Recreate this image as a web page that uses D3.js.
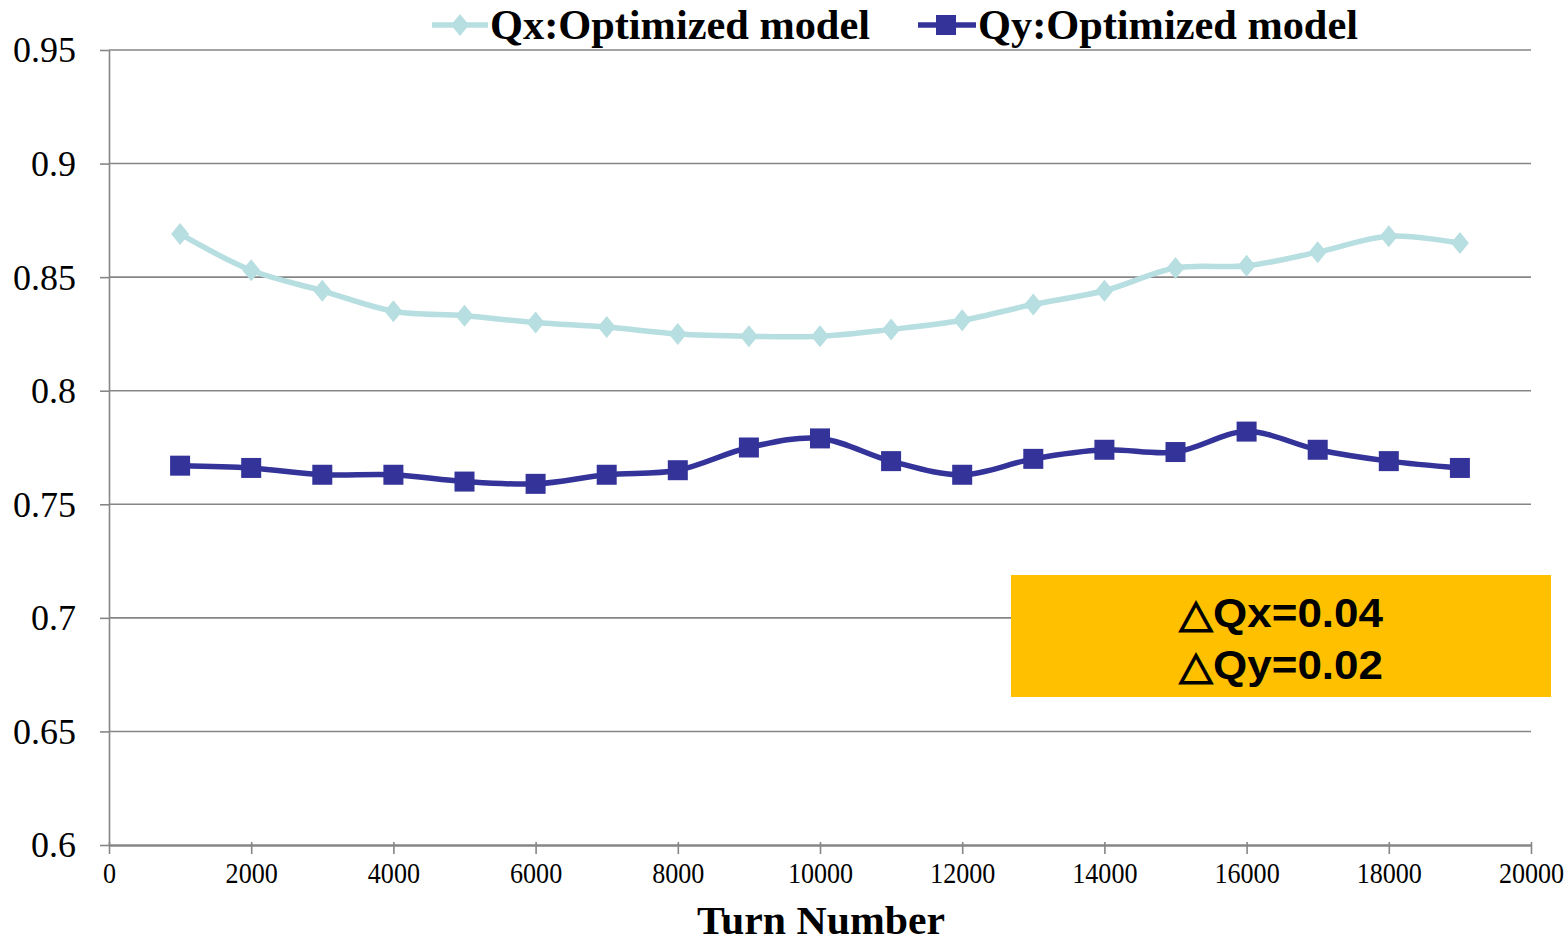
<!DOCTYPE html>
<html><head><meta charset="utf-8">
<script src="https://cdn.jsdelivr.net/npm/d3@7"></script>
<style>body{margin:0;background:#fff}svg{display:block}</style>
</head><body>
<svg id="c" width="1568" height="942"></svg>
<script>
const turns = [1000,2000,3000,4000,5000,6000,7000,8000,9000,10000,11000,12000,13000,14000,15000,16000,17000,18000,19000];
const qx = [0.869,0.853,0.844,0.835,0.833,0.830,0.828,0.825,0.824,0.824,0.827,0.831,0.838,0.844,0.854,0.855,0.861,0.868,0.865];
const qy = [0.767,0.766,0.763,0.763,0.760,0.759,0.763,0.765,0.775,0.779,0.769,0.763,0.770,0.774,0.773,0.782,0.774,0.769,0.766];
const xTicks = [0,2000,4000,6000,8000,10000,12000,14000,16000,18000,20000];
const yTicks = [0.6,0.65,0.7,0.75,0.8,0.85,0.9,0.95];
const seriesNames = ["Qx:Optimized model","Qy:Optimized model"];
const annotation = ["\u25B3Qx=0.04","\u25B3Qy=0.02"];

const svg = d3.select("#c");
const L=109,R=1531,T=50,B=845;
const x = d3.scaleLinear().domain([0,20000]).range([L,R]);
const y = d3.scaleLinear().domain([0.6,0.95]).range([B,T]);
const grey="#868686";
const serif="'Liberation Serif','Times New Roman',serif";

// gridlines
svg.append("g").selectAll("line").data(yTicks.filter(v=>v>0.6)).join("line")
  .attr("x1",L).attr("x2",R).attr("y1",d=>y(d)).attr("y2",d=>y(d))
  .attr("stroke",grey).attr("stroke-width",1.6);

// y axis
const ya = svg.append("g").attr("transform",`translate(${L},0)`)
  .call(d3.axisLeft(y).tickValues(yTicks).tickFormat(d=>String(+d.toFixed(2))).tickSize(9).tickSizeOuter(0));
ya.select(".domain").attr("stroke",grey).attr("stroke-width",1.6);
ya.selectAll(".tick line").attr("stroke",grey).attr("stroke-width",1.6);
ya.selectAll(".tick text").attr("font-family",serif).attr("font-size",36).attr("fill","#000")
  .attr("x",-33).attr("dy","0.33em");

// x axis
const xa = svg.append("g").attr("transform",`translate(0,${B})`)
  .call(d3.axisBottom(x).tickValues(xTicks).tickFormat(d3.format("d")).tickSize(9).tickSizeOuter(0));
xa.select(".domain").attr("stroke",grey).attr("stroke-width",2.5);
xa.selectAll(".tick line").attr("stroke",grey).attr("stroke-width",1.6).attr("y1",-3);
xa.selectAll(".tick text").attr("font-family",serif).attr("font-size",30).attr("fill","#000")
  .attr("y",17).attr("dy","0.71em").attr("transform","scale(0.87,1)");

// x title
svg.append("text").attr("x",(697+945)/2).attr("y",934).attr("text-anchor","middle")
  .attr("font-family",serif).attr("font-weight","bold").attr("font-size",41)
  .attr("textLength",248).attr("lengthAdjust","spacingAndGlyphs").text("Turn Number");

const line = d3.line().x((d,i)=>x(turns[i])).y(d=>y(d)).curve(d3.curveCatmullRom.alpha(0.5));
const c1="#B7DEE0", c2="#333399";
svg.append("path").attr("d",line(qx)).attr("fill","none").attr("stroke",c1).attr("stroke-width",5.5);
svg.append("path").attr("d",line(qy)).attr("fill","none").attr("stroke",c2).attr("stroke-width",5.5);

const diamond = (cx,cy)=>`M${cx},${cy-11}L${cx+9},${cy}L${cx},${cy+11}L${cx-9},${cy}Z`;
svg.append("g").selectAll("path").data(qx).join("path")
  .attr("d",(d,i)=>diamond(x(turns[i]),y(d))).attr("fill",c1);
svg.append("g").selectAll("rect").data(qy).join("rect")
  .attr("x",(d,i)=>x(turns[i])-10).attr("y",d=>y(d)-10).attr("width",20).attr("height",20).attr("fill",c2);

// legend
const lg = svg.append("g");
lg.append("line").attr("x1",432).attr("x2",488).attr("y1",25).attr("y2",25).attr("stroke",c1).attr("stroke-width",5.5);
lg.append("path").attr("d",diamond(460,25)).attr("fill",c1);
lg.append("text").attr("x",490).attr("y",39).attr("font-family",serif).attr("font-weight","bold")
  .attr("font-size",42).attr("textLength",380).attr("lengthAdjust","spacingAndGlyphs").text(seriesNames[0]);
lg.append("line").attr("x1",918).attr("x2",976).attr("y1",25).attr("y2",25).attr("stroke",c2).attr("stroke-width",5.5);
lg.append("rect").attr("x",936).attr("y",15).attr("width",20).attr("height",20).attr("fill",c2);
lg.append("text").attr("x",978).attr("y",39).attr("font-family",serif).attr("font-weight","bold")
  .attr("font-size",42).attr("textLength",380).attr("lengthAdjust","spacingAndGlyphs").text(seriesNames[1]);

// annotation box
svg.append("rect").attr("x",1011).attr("y",575).attr("width",540).attr("height",122).attr("fill","#FFC000");
svg.append("g").selectAll("text").data(annotation).join("text")
  .attr("x",1281).attr("y",(d,i)=>627+i*52).attr("text-anchor","middle")
  .attr("font-family","'Liberation Sans',Arial,sans-serif").attr("font-weight","bold").attr("font-size",40)
  .attr("textLength",204).attr("lengthAdjust","spacingAndGlyphs")
  .attr("fill","#000").text(d=>d);
</script>
</body></html>
